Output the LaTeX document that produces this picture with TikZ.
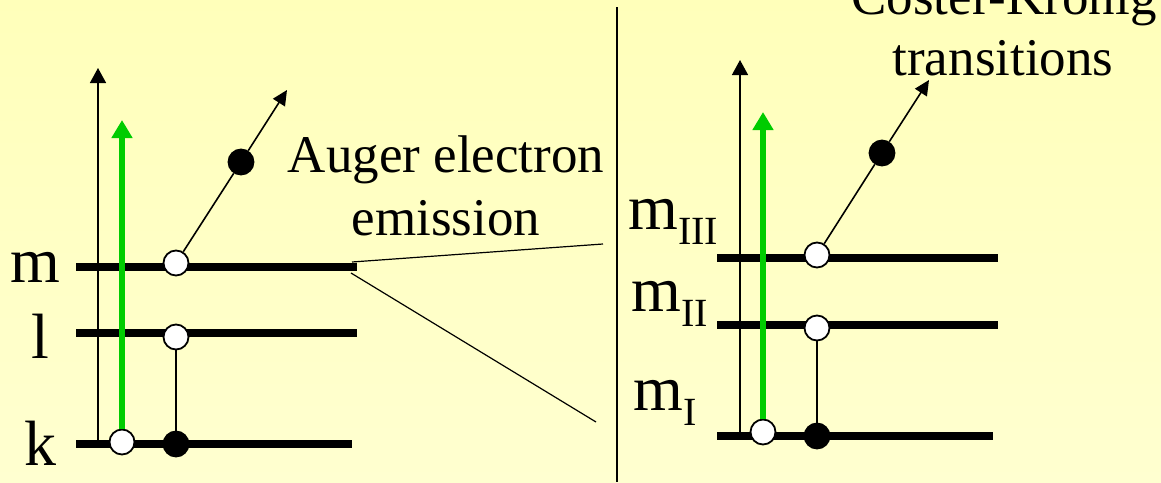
\documentclass[tikz,border=0pt]{standalone}
\usepackage{fontspec}
\setmainfont{Liberation Serif}
\usetikzlibrary{arrows.meta,positioning}
\definecolor{bgtop}{RGB}{255,255,186}
\definecolor{bgbot}{RGB}{255,255,208}
\definecolor{photongreen}{RGB}{0,204,0}
\newcommand{\lvsub}[1]{\raisebox{-7.5pt}{\fontsize{20}{20}\selectfont #1}}
\tikzset{
  shellline/.style={line width=3.8pt,line cap=butt},
  hole/.style={circle,draw=black,line width=0.9pt,fill=white,minimum size=12.5pt,inner sep=0pt},
  elec/.style={hole,fill=black},
  enaxis/.style={-{Triangle[length=7.5pt,width=8pt]},line width=0.75pt},
  photon/.style={-{Triangle[length=9pt,width=10pt]},draw=photongreen,line width=3.2pt},
  emit/.style={-{Triangle[length=7.5pt,width=7pt]},line width=0.8pt},
  link/.style={line width=0.6pt},
  shlabel/.style={font=\fontsize{32}{32}\selectfont,inner sep=0pt,anchor=base},
  capt/.style={font=\fontsize{26.5}{26.5}\selectfont,inner sep=0pt,anchor=base},
}

\begin{document}
\begin{tikzpicture}[x=0.5pt,y=-0.5pt]
  \shade[top color=bgtop,bottom color=bgbot] (0,0) rectangle (1161,482);
  \useasboundingbox (0,0) rectangle (1161,482);
  % left: k, l and m shells
  \draw[shellline] (76,267) -- (357,267);
  \draw[shellline] (76,333) -- (357,333);
  \draw[shellline] (76,444) -- (352,444);
  \node[shlabel] (lblm) at (35,282) {m};
  \node[shlabel] (lbll) at (40,358) {l};
  \node[shlabel] (lblk) at (41,465) {k};
  \coordinate (lax0) at (98,444);
  \coordinate (lax1) at (98,68);
  \draw[enaxis] (lax0) -- (lax1);
  \node[hole] (kh) at (122,442) {};
  \node[elec] (ke) at (176,444) {};
  \node[hole] (lh) at (176,337) {};
  \node[hole] (mh) at (176,263) {};
  \node[elec] (auger) at (241,162) {};
  \coordinate (augerout) at (287,90);
  \coordinate (lgtip) at (122,120);
  \draw[photon] (kh) -- (lgtip);
  \draw[link] (lh) -- (ke);
  \draw[link,line width=0.8pt] (mh) -- (auger);
  \draw[emit] (auger) -- (augerout);
  \node[capt] (aug1) at (446,172) {Auger electron};
  \node[capt] (aug2) at (446,235) {emission};
  % zoom onto the m shell
  \coordinate (zu0) at (352,262);
  \coordinate (zu1) at (603,244);
  \coordinate (zl0) at (351,273);
  \coordinate (zl1) at (596,422);
  \draw[link] (zu0) -- (zu1);
  \draw[link] (zl0) -- (zl1);
  \coordinate (div0) at (617,7);
  \coordinate (div1) at (617,482);
  \draw[line width=1pt] (div0) -- (div1);
  % right: m sub-shells
  \draw[shellline] (717,258) -- (998,258);
  \draw[shellline] (717,325) -- (998,325);
  \draw[shellline] (717,436) -- (993,436);
  \node[shlabel,anchor=base west] (lblm3) at (628,229) {m\lvsub{III}};
  \node[shlabel,anchor=base west] (lblm2) at (631,311) {m\lvsub{II}};
  \node[shlabel,anchor=base west] (lblm1) at (633,410) {m\lvsub{I}};
  \coordinate (rax0) at (740,436);
  \coordinate (rax1) at (740,60);
  \draw[enaxis] (rax0) -- (rax1);
  \node[hole] (m1h) at (763,432) {};
  \node[elec] (m1e) at (817,436) {};
  \node[hole] (m2h) at (817,328) {};
  \node[hole] (m3h) at (817,255) {};
  \node[elec] (ck) at (882,153) {};
  \coordinate (ckout) at (929,80);
  \coordinate (rgtip) at (763,112);
  \draw[photon] (m1h) -- (rgtip);
  \draw[link] (m2h) -- (m1e);
  \draw[link,line width=0.8pt] (m3h) -- (ck);
  \draw[emit] (ck) -- (ckout);
  \node[capt] (ck1) at (1004,14) {Coster-Kronig};
  \node[capt] (ck2) at (1003,75) {transitions};
\end{tikzpicture}
\end{document}
